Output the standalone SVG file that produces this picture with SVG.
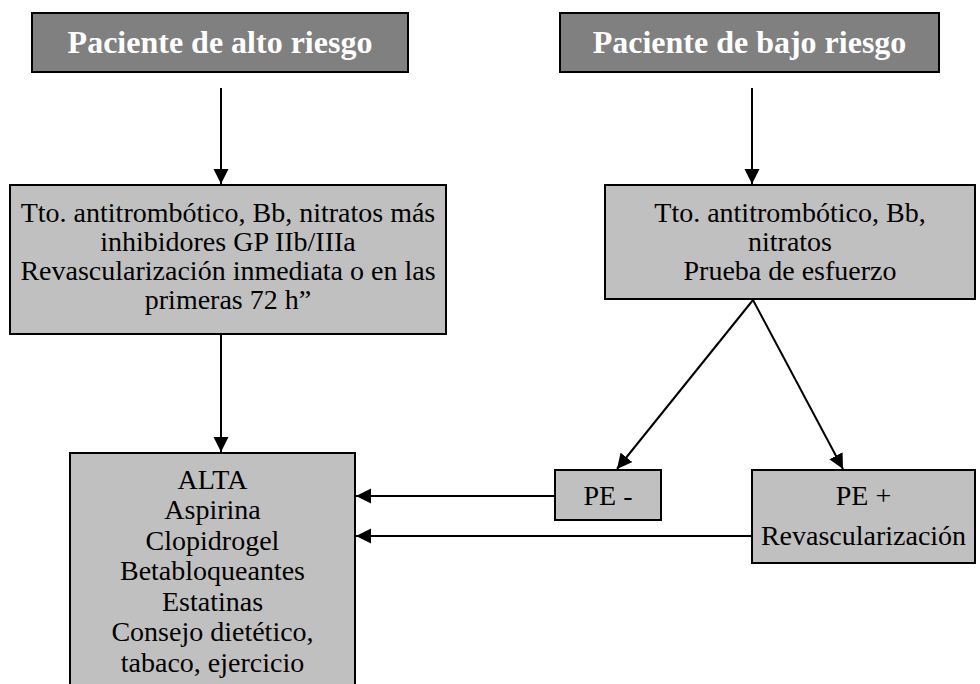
<svg xmlns="http://www.w3.org/2000/svg" width="980" height="684" viewBox="0 0 980 684">
<style>
.hdr{fill:#808080;stroke:#000;stroke-width:2}
.box{fill:#c0c0c0;stroke:#000;stroke-width:2}
.ht{font-family:"Liberation Serif","Times New Roman",serif;font-weight:bold;font-size:32px;fill:#fff;text-anchor:middle}
.t{font-family:"Liberation Serif","Times New Roman",serif;font-size:28px;fill:#000;text-anchor:middle}
.c{stroke:#000;stroke-width:2;fill:none;marker-end:url(#ah)}
</style>
<defs>
<marker id="ah" markerUnits="userSpaceOnUse" markerWidth="16" markerHeight="16" viewBox="0 0 16 16" refX="15" refY="8" orient="auto">
<path d="M0,0.5 L15,8 L0,15.5 Z" fill="#000"/>
</marker>
</defs>
<rect width="980" height="684" fill="#fff"/>
<g id="connectors">
<line class="c" x1="221" y1="88" x2="221" y2="184"/>
<line class="c" x1="752" y1="88" x2="752" y2="184"/>
<line class="c" x1="221" y1="335" x2="221" y2="452"/>
<line class="c" x1="753" y1="300" x2="617" y2="469"/>
<line class="c" x1="753" y1="300" x2="843" y2="469"/>
<line class="c" x1="555" y1="496" x2="356" y2="496"/>
<line class="c" x1="751" y1="536" x2="356" y2="536"/>
</g>
<g id="alto">
<rect class="hdr" x="32" y="13" width="376" height="59"/>
<text class="ht" x="220" y="53">Paciente de alto riesgo</text>
</g>
<g id="bajo">
<rect class="hdr" x="560" y="13" width="379" height="59"/>
<text class="ht" x="749.5" y="53">Paciente de bajo riesgo</text>
</g>
<g id="tto-alto">
<rect class="box" x="10" y="185" width="436" height="149"/>
<text class="t" x="228" y="222">Tto. antitrombótico, Bb, nitratos más</text>
<text class="t" x="228" y="251">inhibidores GP IIb/IIIa</text>
<text class="t" x="228" y="280">Revascularización inmediata o en las</text>
<text class="t" x="228" y="309">primeras 72 h”</text>
</g>
<g id="tto-bajo">
<rect class="box" x="605" y="185" width="370" height="114"/>
<text class="t" x="790" y="222">Tto. antitrombótico, Bb,</text>
<text class="t" x="790" y="251">nitratos</text>
<text class="t" x="790" y="280">Prueba de esfuerzo</text>
</g>
<g id="pe-neg">
<rect class="box" x="555" y="470" width="106" height="50"/>
<text class="t" x="608" y="505">PE -</text>
</g>
<g id="pe-pos">
<rect class="box" x="752" y="470" width="223" height="93"/>
<text class="t" x="863.5" y="505">PE +</text>
<text class="t" x="863.5" y="545">Revascularización</text>
</g>
<g id="alta">
<rect class="box" x="70" y="453" width="285" height="240"/>
<text class="t" x="212.5" y="489">ALTA</text>
<text class="t" x="212.5" y="519">Aspirina</text>
<text class="t" x="212.5" y="550">Clopidrogel</text>
<text class="t" x="212.5" y="580">Betabloqueantes</text>
<text class="t" x="212.5" y="611">Estatinas</text>
<text class="t" x="212.5" y="641">Consejo dietético,</text>
<text class="t" x="212.5" y="672">tabaco, ejercicio</text>
</g>
</svg>
